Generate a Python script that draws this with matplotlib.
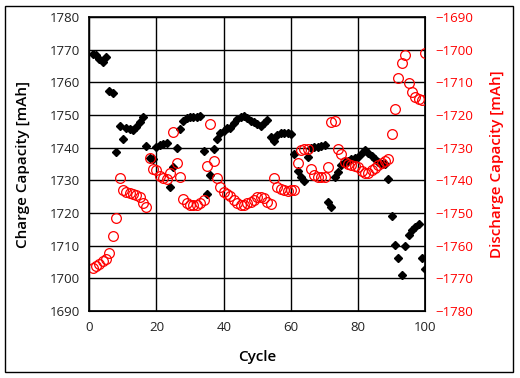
"""
Charge / discharge capacity vs cycle - recreated chart.
"""
import matplotlib
matplotlib.use("Agg")
import matplotlib.pyplot as plt
from matplotlib.patches import Rectangle

plt.rcParams['font.family'] = ['Open Sans', 'Noto Sans', 'DejaVu Sans']

cycles = list(range(1, 101))

charge = [
    1768.7, 1768.5, 1767.3, 1766.3, 1767.9, 1757.5, 1756.8, 1738.8, 1746.6, 1742.7,
    1745.9, 1745.7, 1745.4, 1746.2, 1748.0, 1749.5, 1740.5, 1736.7, 1736.4, 1740.1,
    1740.8, 1741.1, 1741.5, 1728.1, 1734.0, 1740.0, 1745.7, 1748.3, 1749.0, 1749.3,
    1749.3, 1749.3, 1749.7, 1739.0, 1725.8, 1731.6, 1739.6, 1742.6, 1744.4, 1745.2,
    1745.9, 1745.9, 1747.5, 1748.7, 1749.5, 1749.7, 1749.0, 1748.3, 1747.8, 1747.2,
    1746.7, 1747.5, 1748.5, 1743.4, 1742.1, 1743.9, 1744.4, 1744.5, 1744.4, 1744.3,
    1738.2, 1733.0, 1730.9, 1729.8, 1737.2, 1739.8, 1740.1, 1740.3, 1740.4, 1740.8,
    1723.5, 1721.9, 1730.9, 1732.6, 1734.7, 1735.7, 1736.0, 1736.4, 1736.7, 1737.2,
    1738.5, 1739.3, 1738.5, 1737.5, 1736.5, 1735.7, 1735.0, 1735.0, 1730.5, 1719.0,
    1710.3, 1706.2, 1701.0, 1710.0, 1713.3, 1714.8, 1715.8, 1716.7, 1706.2, 1702.8,
]

discharge = [
    -1766.8, -1766.3, -1765.6, -1764.8, -1764.0, -1762.3, -1757.0, -1751.6, -1739.4, -1743.0,
    -1743.5, -1744.0, -1744.2, -1744.5, -1745.0, -1746.8, -1748.1, -1733.0, -1736.6, -1736.8,
    -1738.7, -1739.4, -1739.5, -1737.7, -1725.1, -1734.6, -1739.1, -1745.8, -1747.0, -1747.5,
    -1747.5, -1747.5, -1747.0, -1746.0, -1735.6, -1722.8, -1734.0, -1739.4, -1741.9, -1743.5,
    -1744.2, -1744.8, -1746.0, -1747.0, -1747.5, -1747.5, -1747.0, -1746.5, -1746.0, -1745.2,
    -1745.0, -1745.5, -1746.5, -1747.2, -1739.4, -1741.9, -1742.7, -1743.0, -1743.2, -1743.0,
    -1743.0, -1734.6, -1730.7, -1730.5, -1730.5, -1736.6, -1738.4, -1739.1, -1739.1, -1738.9,
    -1736.0, -1722.2, -1721.7, -1730.5, -1731.9, -1734.3, -1735.0, -1735.3, -1735.6, -1735.8,
    -1737.1, -1737.7, -1737.7, -1736.8, -1736.1, -1735.3, -1734.6, -1734.0, -1733.5, -1725.9,
    -1718.1, -1708.6, -1704.2, -1701.6, -1710.3, -1712.9, -1714.4, -1715.2, -1715.5, -1701.1,
]

left_ticks = list(range(1690, 1781, 10))
right_ticks = list(range(-1780, -1689, 10))
x_ticks = [0, 20, 40, 60, 80, 100]

fig = plt.figure(figsize=(5.2, 3.78), dpi=100)
ax = fig.add_axes([0.1717, 0.177, 0.6463, 0.778])

# charge capacity (left)
ax.plot(cycles, charge, linestyle='none', marker='D', markersize=4.2,
        color='black', zorder=3)
ax.set_xlim(0, 100)
ax.set_ylim(1690, 1780)
ax.set_xticks(x_ticks)
ax.set_yticks(left_ticks)
ax.grid(True, color='black', linewidth=1)
ax.tick_params(length=0, labelsize=9.5, colors='#222222', pad=7)
ax.set_xlabel('Cycle', fontsize=11, fontweight='semibold', labelpad=12)
ax.set_ylabel('Charge Capacity [mAh]', fontsize=11, fontweight='semibold', labelpad=14)
for s in ax.spines.values():
    s.set_linewidth(1.2)

# discharge capacity (right)
ax2 = ax.twinx()
ax2.plot(cycles, discharge, linestyle='none', marker='o', markersize=7,
         markerfacecolor='none', markeredgecolor='red', markeredgewidth=0.9)
ax2.set_ylim(-1780, -1690)
ax2.set_yticks(right_ticks)
ax2.tick_params(length=0, labelsize=9.5, colors='red', pad=7)
ax2.set_ylabel('Discharge Capacity [mAh]', fontsize=11, fontweight='semibold',
               color='red', labelpad=12)

# outer frame around the whole chart
fig.patches.append(Rectangle((5 / 520, 6 / 378), 508 / 520, 366 / 378,
                             transform=fig.transFigure, fill=False,
                             edgecolor='black', linewidth=1))

fig.savefig('out.png', dpi=100)
